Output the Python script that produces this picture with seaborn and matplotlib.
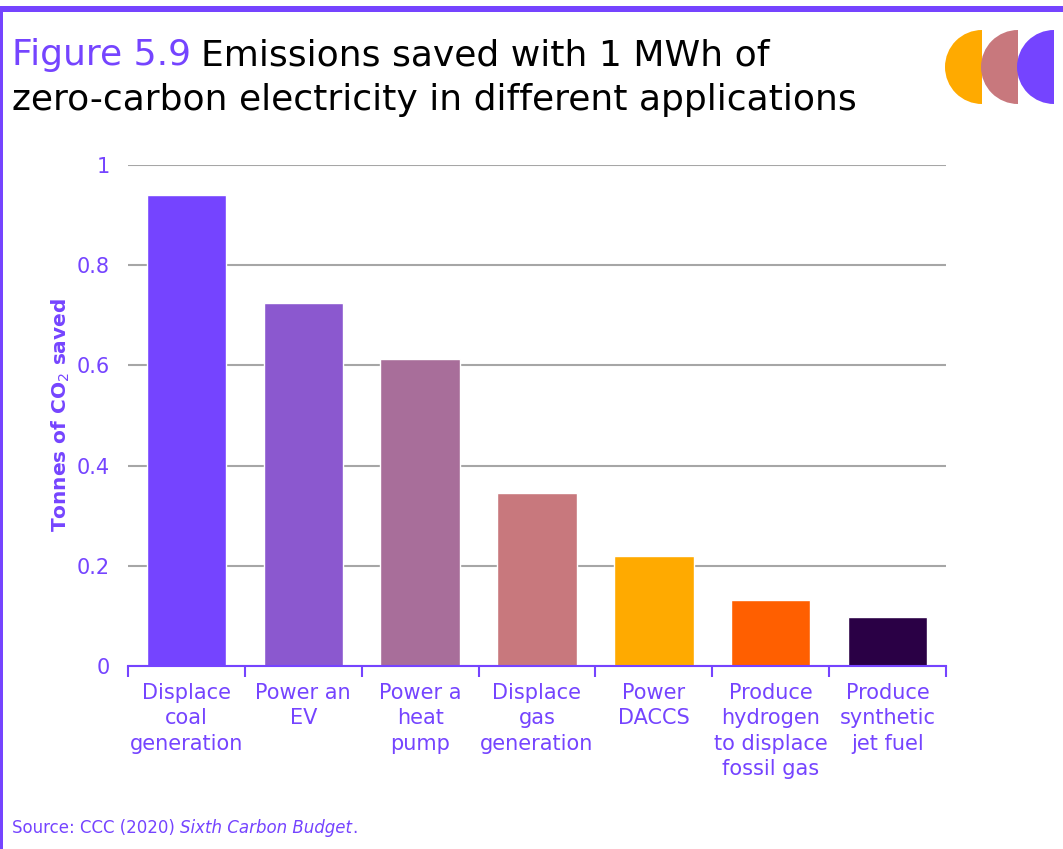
import matplotlib
matplotlib.use("Agg")
import matplotlib.pyplot as plt
import seaborn as sns
import pandas as pd
from matplotlib.patches import Wedge, Rectangle

# data
categories = ["Displace\ncoal\ngeneration", "Power an\nEV", "Power a\nheat\npump",
              "Displace\ngas\ngeneration", "Power\nDACCS",
              "Produce\nhydrogen\nto displace\nfossil gas", "Produce\nsynthetic\njet fuel"]
tonnes_saved = [0.94, 0.725, 0.613, 0.345, 0.22, 0.132, 0.098]
bar_colors = ["#7544FF", "#8B58CF", "#A86E9A", "#C8787D", "#FFAA00", "#FF5F00", "#2A0045"]
y_ticks = [0, 0.2, 0.4, 0.6, 0.8, 1]
y_tick_labels = ["0", "0.2", "0.4", "0.6", "0.8", "1"]

PURPLE = "#7544FF"
FONT = ["DejaVu Sans"]

sns.set_style("white")
plt.rcParams["font.family"] = FONT

df = pd.DataFrame({"cat": categories, "val": tonnes_saved})

W, H = 1063, 849
fig = plt.figure(figsize=(W / 100, H / 100), dpi=100)
ax = fig.add_axes([128 / W, 1 - 666 / H, (946 - 128) / W, 501 / H])

sns.barplot(data=df, x="cat", y="val", hue="cat", palette=bar_colors,
            legend=False, width=0.68, ax=ax, saturation=1)

ax.set_ylim(0, 1)
ax.set_xlim(-0.5, len(categories) - 0.5)
ax.set_yticks(y_ticks)
ax.set_yticklabels(y_tick_labels)
ax.yaxis.grid(True, color="#A6A6A6", linewidth=1.5)
ax.set_axisbelow(True)
for s in ["top", "right", "left"]:
    ax.spines[s].set_visible(False)
ax.spines["bottom"].set_color(PURPLE)
ax.spines["bottom"].set_linewidth(1.5)

ax.tick_params(axis="y", length=0, pad=13, labelsize=15, labelcolor=PURPLE)
ax.tick_params(axis="x", which="major", length=0, pad=12, labelsize=15, labelcolor=PURPLE)
ax.set_xticks([i - 0.5 for i in range(len(categories) + 1)], minor=True)
ax.tick_params(axis="x", which="minor", bottom=True, length=8, width=1.5, color=PURPLE)
for lbl in ax.get_xticklabels():
    lbl.set_linespacing(1.35)

ax.set_xlabel("")
ax.set_ylabel("Tonnes of CO$_2$ saved", fontsize=14.5, fontweight="bold", color=PURPLE)
ax.yaxis.set_label_coords(-0.068, 0.5)

# frame, logo and titles drawn in pixel coords
over = fig.add_axes([0, 0, 1, 1], facecolor="none")
over.set_xlim(0, W)
over.set_ylim(H, 0)
over.axis("off")
over.add_patch(Rectangle((0, 6), W, 6, color=PURPLE, lw=0))
over.add_patch(Rectangle((0, 6), 3, H, color=PURPLE, lw=0))
for cx, col in [(982, "#FFAA00"), (1018, "#C8787D"), (1054, "#7544FF")]:
    over.add_patch(Wedge((cx, 67), 37, 90, 270, color=col, lw=0))

t1 = over.text(12, 65, "Figure 5.9", fontsize=26, color=PURPLE, va="baseline")
fig.canvas.draw()
bb = t1.get_window_extent()
over.text(12 + bb.width + 10, 65, "Emissions saved with 1 MWh of", fontsize=26, color="black", va="baseline")
over.text(12, 110, "zero-carbon electricity in different applications", fontsize=26, color="black", va="baseline")

s1 = over.text(12, 833, "Source: CCC (2020) ", fontsize=12, color=PURPLE, va="baseline")
fig.canvas.draw()
b1 = s1.get_window_extent()
s2 = over.text(12 + b1.width, 833, "Sixth Carbon Budget", fontsize=12, color=PURPLE,
               style="italic", va="baseline")
fig.canvas.draw()
b2 = s2.get_window_extent()
over.text(12 + b1.width + b2.width, 833, ".", fontsize=12, color=PURPLE, va="baseline")

fig.savefig("out.png", dpi=100)
